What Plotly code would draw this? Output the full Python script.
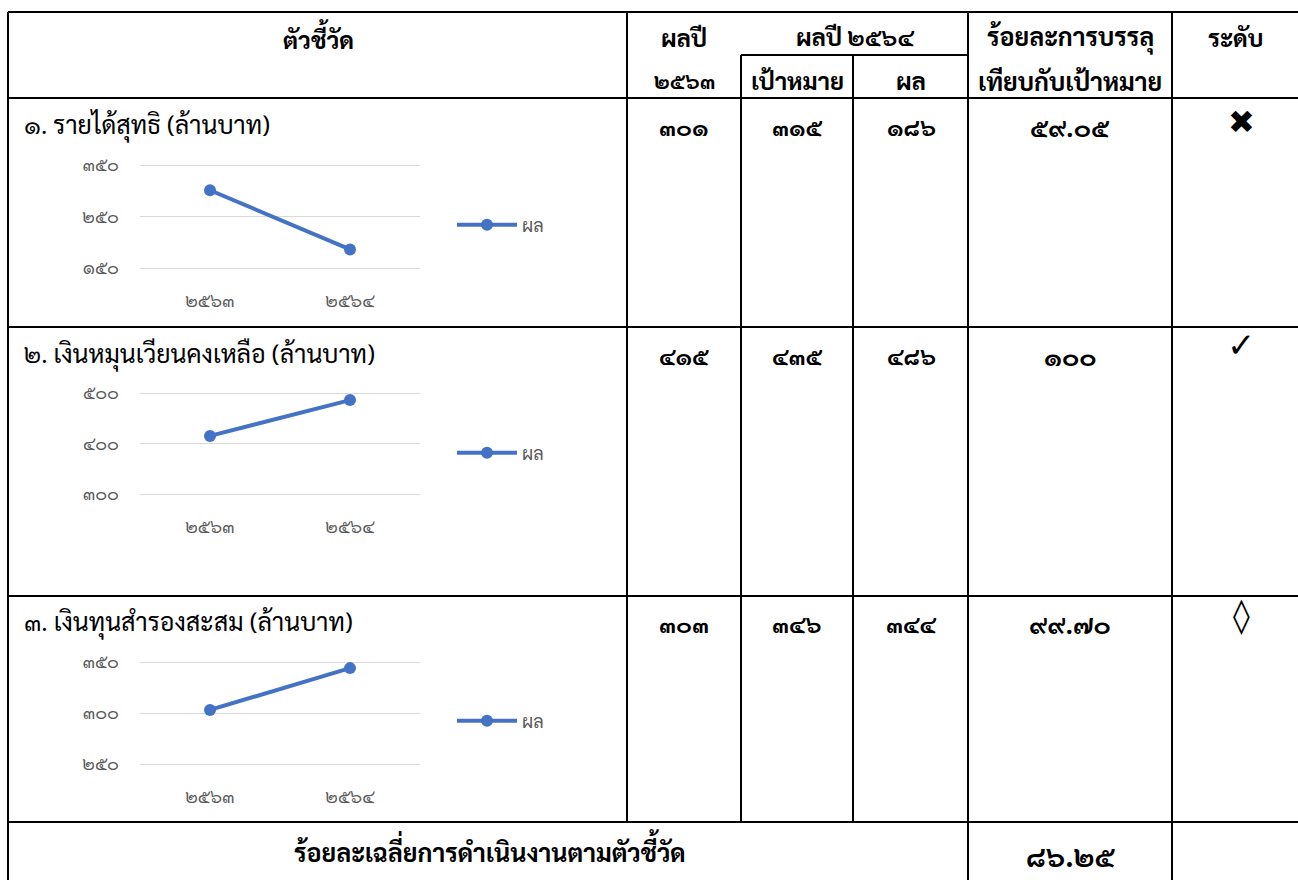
import plotly.graph_objects as go

# ---------------- data ----------------
indicators = ["๑. รายได้สุทธิ (ล้านบาท)",
              "๒. เงินหมุนเวียนคงเหลือ (ล้านบาท)",
              "๓. เงินทุนสำรองสะสม (ล้านบาท)"]
years = ["2563", "2564"]
result_2563 = [301, 415, 303]
target_2564 = [315, 435, 346]
result_2564 = [186, 486, 344]
pct_text = ["59.05", "100", "99.70"]
levels = ["✖", "✓", "◊"]
avg_pct = "86.25"
y_ticks = [[150, 250, 350], [300, 400, 500], [250, 300, 350]]
series_name = "ผล"

TH = str.maketrans("0123456789", "๐๑๒๓๔๕๖๗๘๙")
def th(v):
    return str(v).translate(TH)

W, H = 1298, 880
FONT = ("Laksaman, Sarabun, TH Sarabun New, Noto Sans Thai Looped, Noto Serif Thai, "
        "Noto Sans Thai, Noto Sans, DejaVu Sans, sans-serif")
BLUE = "#4472C4"
GREY = "#595959"

def px(x):
    return x / W
def py(y):
    return 1 - y / H

fig = go.Figure()

# ---------------- table grid ----------------
cols = [8, 627, 741, 853, 968, 1172, 1310]
row_top, head_mid = 12, 55
rows = [98, 327, 596, 822]
table_bottom = 890
shapes = []
def hline(x0, x1, y, w=2):
    shapes.append(dict(type="line", xref="paper", yref="paper", x0=px(x0), x1=px(x1),
                       y0=py(y), y1=py(y), line=dict(color="black", width=w)))
def vline(x, y0, y1, w=2):
    shapes.append(dict(type="line", xref="paper", yref="paper", x0=px(x), x1=px(x),
                       y0=py(y0), y1=py(y1), line=dict(color="black", width=w)))

hline(cols[0], cols[-1], row_top)
hline(cols[2], cols[4], head_mid)
for r in rows:
    hline(cols[0], cols[-1], r)
vline(cols[0], row_top, table_bottom)
vline(cols[1], row_top, rows[-1])
vline(cols[2], head_mid, rows[-1])
vline(cols[3], head_mid, rows[-1])
vline(cols[4], row_top, table_bottom)
vline(cols[5], row_top, table_bottom)

ann = []
def text(x, y, t, size=24, bold=False, anchor="center", color="black", family=FONT):
    ann.append(dict(xref="paper", yref="paper", x=px(x), y=py(y), text=("<b>%s</b>" % t) if bold else t,
                    showarrow=False, xanchor=anchor, yanchor="middle",
                    font=dict(size=size, color=color, family=family)))

# header
text(318, 37, "ตัวชี้วัด", bold=True)
text(684, 37, "ผลปี", bold=True)
text(684, 80, th(years[0]), size=22, bold=True)
text(855, 36, "ผลปี " + th(years[1]), bold=True)
text(797, 80, "เป้าหมาย", bold=True)
text(911, 80, "ผล", bold=True)
text(1070, 37, "ร้อยละการบรรลุ", size=25, bold=True)
text(1070, 80, "เทียบกับเป้าหมาย", size=25, bold=True)
text(1235, 37, "ระดับ", bold=True)

row_text_y = [125, 354, 622]
level_dy = [-3, -9, -7]
for i in range(3):
    ty = row_text_y[i]
    text(22, ty, indicators[i], size=25, anchor="left")
    text(684, ty + 1, th(result_2563[i]), size=24, bold=True)
    text(797, ty + 1, th(target_2564[i]), size=24, bold=True)
    text(911, ty + 1, th(result_2564[i]), size=24, bold=True)
    text(1070, ty + 1, th(pct_text[i]), size=26, bold=True)
    text(1241, ty + level_dy[i], levels[i], size=34 if i else 32, family="DejaVu Sans")

text(490, 848, "ร้อยละเฉลี่ยการดำเนินงานตามตัวชี้วัด", size=25, bold=True)
text(1071, 855, th(avg_pct), size=29, bold=True)

# ---------------- mini charts ----------------
chart_y = [(165, 268), (393, 494), (662, 764)]
legend_y = [225, 453, 721]
series = [[result_2563[i], result_2564[i]] for i in range(3)]
PAD = 3  # px of padding so the edge gridlines are drawn
layout_axes = {}
for i in range(3):
    n = "" if i == 0 else str(i + 1)
    lg = "legend" if i == 0 else "legend%d" % (i + 1)
    fig.add_trace(go.Scatter(x=[th(y) for y in years], y=series[i], mode="lines+markers",
                             name=series_name, line=dict(color=BLUE, width=4),
                             marker=dict(size=12, color=BLUE),
                             xaxis="x" + n, yaxis="y" + n, legend=lg, showlegend=True))
    yt, yb = chart_y[i]
    ticks = y_ticks[i]
    eps = (ticks[-1] - ticks[0]) * PAD / (yb - yt)
    layout_axes["xaxis" + n] = dict(domain=[px(140), px(420)], anchor="y" + n, type="category",
                                    range=[-0.5, 1.5], showgrid=False, zeroline=False, showline=False,
                                    ticks="", ticklabelstandoff=20 - PAD, automargin=False,
                                    tickfont=dict(size=18, color=GREY, family=FONT))
    layout_axes["yaxis" + n] = dict(domain=[py(yb + PAD), py(yt - PAD)], anchor="x" + n,
                                    range=[ticks[0] - eps, ticks[-1] + eps], tickvals=ticks,
                                    ticktext=[th(t) for t in ticks], showgrid=True,
                                    gridcolor="#D9D9D9", gridwidth=1, zeroline=False,
                                    showline=False, ticks="", ticklabelstandoff=20, automargin=False,
                                    tickfont=dict(size=18, color=GREY, family=FONT))
    layout_axes[lg] = dict(x=px(452), y=py(legend_y[i]), xanchor="left", yanchor="middle",
                           bgcolor="rgba(0,0,0,0)", font=dict(size=18, color=GREY, family=FONT),
                           itemwidth=60)

fig.update_layout(width=W, height=H, margin=dict(l=0, r=0, t=0, b=0, pad=0, autoexpand=False),
                  paper_bgcolor="white", plot_bgcolor="white",
                  shapes=shapes, annotations=ann, **layout_axes)

fig.write_html("out.html", config={"displayModeBar": False},
               post_script="document.body.style.margin='0px';")
